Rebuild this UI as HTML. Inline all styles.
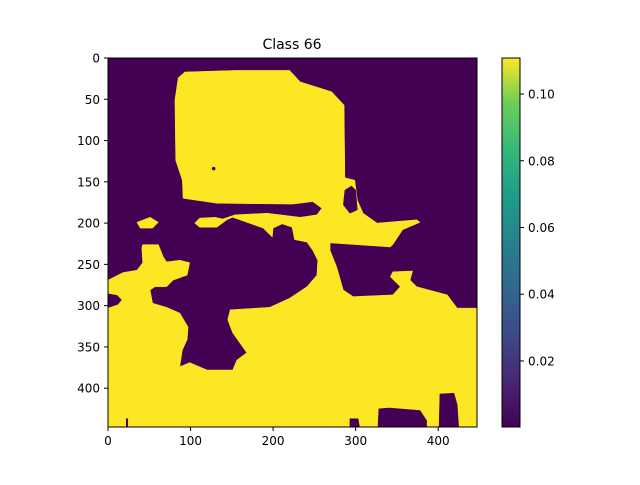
<!DOCTYPE html>
<html><head><meta charset="utf-8"><style>
body{margin:0;background:#fff;width:640px;height:480px;overflow:hidden}
text{font-family:"DejaVu Sans","Liberation Sans",sans-serif;fill:#000}
</style></head><body>
<svg id="chart" width="640" height="480" xmlns="http://www.w3.org/2000/svg">
<defs><linearGradient id="vir" x1="0" y1="1" x2="0" y2="0">
<stop offset="0" stop-color="#440154"/><stop offset="0.13" stop-color="#482878"/><stop offset="0.25" stop-color="#3e4989"/><stop offset="0.38" stop-color="#31688e"/><stop offset="0.5" stop-color="#26828e"/><stop offset="0.63" stop-color="#1f9e89"/><stop offset="0.75" stop-color="#35b779"/><stop offset="0.88" stop-color="#6ece58"/><stop offset="1" stop-color="#fde725"/></linearGradient>
<clipPath id="clip"><rect x="108" y="58" width="369" height="369"/></clipPath></defs>
<text x="292" y="49" font-size="14" text-anchor="middle">Class 66</text>
<g id="img" clip-path="url(#clip)"></g>
<rect x="108" y="58" width="369" height="369" fill="none" stroke="#000" stroke-width="1"/>
<g id="axes"></g>
<rect x="502" y="58" width="18" height="369" fill="url(#vir)" stroke="#000" stroke-width="1"/>
</svg>
<script>
const xTicks=[0,100,200,300,400];
const yTicks=[0,50,100,150,200,250,300,350,400];
const cbTicks=[0.02,0.04,0.06,0.08,0.10];
const cbMin=0.0002, cbMax=0.1108;
const mainRegion=[[0,269],[18,260],[35,257],[42,248],[41,230],[42,226],[61,226],[67,241],[71,247],[87,245],[99,248],[96,263],[79,269],[71,277],[57,277],[51,281],[54,297],[71,302],[87,309],[97,326],[96,341],[90,354],[87,374],[99,369],[120,378],[151,378],[156,366],[168,357],[151,333],[145,317],[148,305],[196,302],[220,291],[241,277],[253,263],[254,245],[248,233],[241,223],[226,220],[223,205],[211,201],[200,206],[199,217],[188,206],[168,199],[151,193],[144,196],[132,205],[111,205],[105,200],[111,194],[130,193],[139,195],[154,190],[193,188],[233,193],[253,190],[259,182],[248,174],[224,177],[132,176],[91,170],[90,148],[82,124],[81,51],[85,24],[93,17],[154,15],[220,15],[233,29],[271,41],[286,57],[287,145],[299,148],[302,172],[309,188],[326,200],[374,196],[378,199],[357,208],[345,226],[342,229],[269,224],[269,233],[277,253],[285,281],[297,289],[345,287],[354,277],[342,265],[345,259],[369,258],[366,269],[374,277],[411,287],[423,303],[449,303],[449,449],[0,449],[0,303],[12,299],[17,293],[11,287],[0,285]];
const smallBlob=[[35,199],[51,193],[61,199],[54,206],[39,206]];
const notch=[[287,160],[295,155],[300,160],[302,184],[293,188],[285,178]];
const bottomA=[[327,449],[328,425],[341,424],[378,427],[386,439],[386,449]];
const bottomB=[[401,449],[402,407],[419,406],[423,420],[425,449]];
const bottomC=[[293,449],[293,437],[303,437],[305,449]];
const bottomLine=[[22,449],[22,437],[24,437],[24,449]];
const dot=[128,134];
const S=369/447;
function xs(d){return 108+d*S;}
function ys(d){return 58+d*S;}
function cby(v){return 427-(v-cbMin)/(cbMax-cbMin)*369;}
const NS="http://www.w3.org/2000/svg";
const img=document.getElementById('img');
const bg=document.createElementNS(NS,'rect');
bg.setAttribute('x',108);bg.setAttribute('y',58);bg.setAttribute('width',369);bg.setAttribute('height',369);bg.setAttribute('fill','#440154');


img.appendChild(bg);
function poly(pts,fill,name){
  const p=document.createElementNS(NS,'polygon');
  p.setAttribute('points',pts.map(q=>xs(q[0]).toFixed(1)+','+ys(q[1]).toFixed(1)).join(' '));
  p.setAttribute('fill',fill);p.setAttribute('stroke',fill);p.setAttribute('stroke-width','0.5');
  
  
  img.appendChild(p);
}
poly(mainRegion,'#fde725','main-region');
poly(smallBlob,'#fde725','small-blob');
poly(notch,'#440154','notch-region');
poly(bottomA,'#440154','bottom-blob-a');
poly(bottomB,'#440154','bottom-blob-b');
poly(bottomC,'#440154','bottom-blob-c');
poly(bottomLine,'#440154','bottom-line');
const c=document.createElementNS(NS,'circle');
c.setAttribute('cx',xs(dot[0]));c.setAttribute('cy',ys(dot[1]));c.setAttribute('r',1.8);c.setAttribute('fill','#440154');


img.appendChild(c);
const ax=document.getElementById('axes');
function line(x1,y1,x2,y2){const l=document.createElementNS(NS,'line');l.setAttribute('x1',x1);l.setAttribute('y1',y1);l.setAttribute('x2',x2);l.setAttribute('y2',y2);l.setAttribute('stroke','#000');l.setAttribute('stroke-width','1');ax.appendChild(l);return l;}
function txt(x,y,s,anchor){const t=document.createElementNS(NS,'text');t.setAttribute('x',x);t.setAttribute('y',y);t.setAttribute('font-size','12');t.setAttribute('text-anchor',anchor);t.textContent=s;ax.appendChild(t);return t;}
xTicks.forEach(v=>{const x=xs(v);const l=line(x,427,x,431);


const t=txt(x,445,String(v),'middle');

});
yTicks.forEach(v=>{const y=ys(v);const l=line(104,y,108,y);


const t=txt(100,y+4.5,String(v),'end');

});
cbTicks.forEach(v=>{const y=cby(v);const l=line(520,y,524,y);


const t=txt(528,y+4.5,v.toFixed(2),'start');

});
</script>
</body></html>
